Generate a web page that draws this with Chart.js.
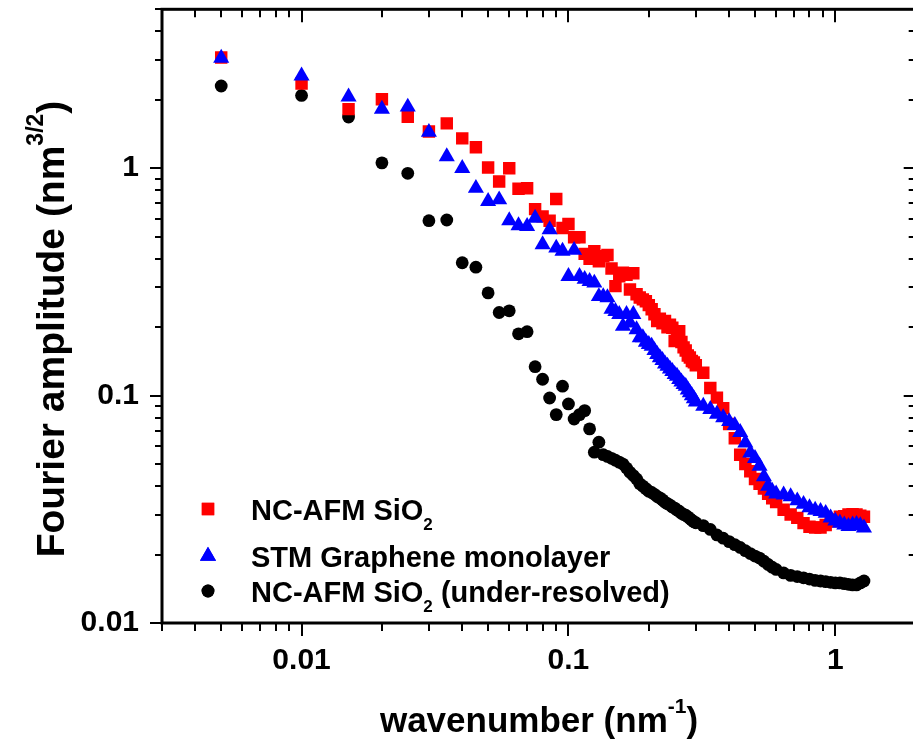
<!DOCTYPE html>
<html>
<head>
<meta charset="utf-8">
<title>Fourier amplitude vs wavenumber</title>
<script src="https://cdn.jsdelivr.net/npm/chart.js@4.4.1/dist/chart.umd.min.js"></script>
<style>
    html, body { margin: 0; padding: 0; background: #fff; overflow: hidden; }
    #wrap { width: 925px; height: 742px; }
</style>
</head>
<body>
<div id="wrap"><canvas id="chart" width="925" height="742"></canvas></div>
<script>
// wavenumber grid (nm^-1), shared by the three series
const wavenumber = [
    0.005, 0.01, 0.015, 0.02, 0.025, 0.03, 0.035, 0.04, 0.045, 0.05,
    0.055, 0.06, 0.065, 0.07, 0.075, 0.08, 0.085, 0.09, 0.095, 0.1,
    0.105, 0.11, 0.115, 0.12, 0.125, 0.13, 0.135, 0.14, 0.145, 0.15,
    0.155, 0.16, 0.165, 0.17, 0.175, 0.18, 0.185, 0.19, 0.195, 0.2,
    0.205, 0.21, 0.215, 0.22, 0.225, 0.23, 0.235, 0.24, 0.245, 0.25,
    0.255, 0.26, 0.265, 0.27, 0.275, 0.28, 0.285, 0.29, 0.295, 0.3,
    0.32, 0.34, 0.36, 0.38, 0.4, 0.42, 0.44, 0.46, 0.48, 0.5,
    0.52, 0.54, 0.56, 0.58, 0.6,
    0.64, 0.68, 0.72, 0.76, 0.8, 0.84, 0.88, 0.92, 0.96, 1.0,
    1.04, 1.08, 1.12, 1.16, 1.2, 1.24, 1.28
];

// NC-AFM SiO2
const afmSiO2 = [
    3.07, 2.36, 1.82, 2.01, 1.685, 1.45, 1.575, 1.353, 1.236, 1.007,
    0.874, 1.0, 0.812, 0.817, 0.661, 0.614, 0.588, 0.732, 0.546, 0.568,
    0.497, 0.497, 0.42, 0.40, 0.432, 0.39, 0.41, 0.415, 0.362, 0.303,
    0.335, 0.347, 0.34, 0.293, 0.345, 0.279, 0.27, 0.265, 0.26, 0.25,
    0.24, 0.228, 0.213, 0.218, 0.208, 0.213, 0.2, 0.205, 0.199, 0.174,
    0.185, 0.192, 0.172, 0.163, 0.158, 0.15, 0.147, 0.142, 0.14, 0.136,
    0.126, 0.108, 0.098, 0.088, 0.075, 0.065, 0.055, 0.05, 0.0465, 0.043,
    0.041, 0.039, 0.037, 0.0354, 0.034,
    0.0315, 0.03, 0.029, 0.0275, 0.0265, 0.0263, 0.0263, 0.027, 0.028, 0.0285,
    0.0293, 0.0295, 0.03, 0.0301, 0.03, 0.0296, 0.0293
];

// STM graphene monolayer
const stmGraphene = [
    3.05, 2.55, 2.06, 1.82, 1.86, 1.44, 1.125, 1.0, 0.817, 0.715,
    0.727, 0.588, 0.56, 0.555, 0.604, 0.462, 0.537, 0.446, 0.432, 0.335,
    0.436, 0.335, 0.325, 0.318, 0.313, 0.273, 0.273, 0.27, 0.24, 0.235,
    0.228, 0.202, 0.228, 0.209, 0.228, 0.195, 0.18, 0.18, 0.172, 0.168,
    0.165, 0.158, 0.152, 0.147, 0.143, 0.138, 0.135, 0.131, 0.128, 0.124,
    0.122, 0.118, 0.115, 0.112, 0.11, 0.106, 0.103, 0.1, 0.097, 0.094,
    0.09, 0.087, 0.083, 0.08, 0.077, 0.074, 0.069, 0.062, 0.056, 0.053,
    0.049, 0.044, 0.04, 0.038, 0.037,
    0.0366, 0.036, 0.0345, 0.0333, 0.0322, 0.0314, 0.031, 0.0304, 0.029, 0.0281,
    0.0275, 0.027, 0.0266, 0.027, 0.0272, 0.0268, 0.0262
];

// NC-AFM SiO2 (under-resolved)
const afmUnderResolved = [
    2.30, 2.09, 1.68, 1.056, 0.95, 0.588, 0.592, 0.384, 0.367, 0.283,
    0.232, 0.236, 0.187, 0.191, 0.134, 0.118, 0.0976, 0.0825, 0.11, 0.0919,
    0.0789, 0.0825, 0.0859, 0.0714, 0.0564, 0.0624, 0.055, 0.054, 0.053, 0.052,
    0.051, 0.05, 0.048, 0.046, 0.0445, 0.043, 0.041, 0.04, 0.039, 0.038,
    0.0375, 0.0368, 0.036, 0.0355, 0.0348, 0.034, 0.0335, 0.033, 0.0324, 0.032,
    0.0314, 0.031, 0.0304, 0.03, 0.0298, 0.0293, 0.0288, 0.0283, 0.0279, 0.0276,
    0.0268, 0.0258, 0.0244, 0.0236, 0.0228, 0.0221, 0.0215, 0.0208, 0.0202, 0.0197,
    0.0193, 0.0187, 0.0181, 0.0176, 0.0172,
    0.0166, 0.0162, 0.016, 0.0158, 0.0156, 0.0154, 0.0153, 0.0152, 0.0151, 0.015,
    0.015, 0.0149, 0.0148, 0.0147, 0.0147, 0.015, 0.0153
];

const seriesNames = ['NC-AFM SiO2', 'STM Graphene monolayer', 'NC-AFM SiO2 (under-resolved)'];
const xRange = [0.003, 2];
const yRange = [0.01, 5];

const FONT = '"Liberation Sans", Arial, Helvetica, sans-serif';

const toPoints = (values) => wavenumber.map((k, i) => ({ x: k, y: values[i] }));

// only label the decades
const decadeLabel = (value) => {
    const l = Math.log10(value);
    return Math.abs(l - Math.round(l)) < 1e-6 ? String(Number(value.toPrecision(3))) : '';
};

// 1..9 x 10^n positions between min and max
const logSteps = (min, max) => {
    const out = [];
    for (let e = Math.floor(Math.log10(min)); e <= Math.ceil(Math.log10(max)); e++) {
        for (let m = 1; m <= 9; m++) {
            const v = m * Math.pow(10, e);
            if (v >= min * 0.9999 && v <= max * 1.0001) out.push({ v: v, major: m === 1 });
        }
    }
    return out;
};

// box frame with outward ticks on bottom/left, inward on top/right
const framePlugin = {
    id: 'frame',
    afterDatasetsDraw(chart) {
        const { ctx, chartArea: a, scales } = chart;
        ctx.save();
        ctx.strokeStyle = '#000';
        ctx.lineWidth = 2;
        ctx.beginPath();
        logSteps(scales.x.min, scales.x.max).forEach(t => {
            const px = Math.round(scales.x.getPixelForValue(t.v));
            const len = t.major ? 13 : 8;
            ctx.moveTo(px, a.bottom); ctx.lineTo(px, a.bottom + len);
            ctx.moveTo(px, a.top); ctx.lineTo(px, a.top + len);
        });
        logSteps(scales.y.min, scales.y.max).forEach(t => {
            const py = Math.round(scales.y.getPixelForValue(t.v));
            const len = t.major ? 12 : 7;
            ctx.moveTo(a.left - len, py); ctx.lineTo(a.left, py);
            ctx.moveTo(a.right - len, py); ctx.lineTo(a.right, py);
        });
        ctx.stroke();
        ctx.lineWidth = 3;
        ctx.strokeRect(a.left, a.top, a.right - a.left, a.bottom - a.top);
        ctx.restore();
    }
};

// text with sub/superscripts
const drawRich = (ctx, parts, x, y, size, align) => {
    const fontOf = (p) => `bold ${p.small ? Math.round(size * 0.6) : size}px ${FONT}`;
    let total = 0;
    parts.forEach(p => {
        ctx.font = fontOf(p);
        p.w = ctx.measureText(p.text).width;
        total += p.w;
    });
    let cx = align === 'center' ? x - total / 2 : x;
    parts.forEach(p => {
        ctx.font = fontOf(p);
        ctx.fillText(p.text, cx, y + (p.shift || 0));
        cx += p.w;
    });
};

const chemParts = (label) => {
    const bits = label.split('SiO2');
    const parts = [];
    bits.forEach((b, i) => {
        if (i > 0) {
            parts.push({ text: 'SiO' });
            parts.push({ text: '2', small: true, shift: 10 });
        }
        if (b) parts.push({ text: b });
    });
    return parts;
};

const labelsPlugin = {
    id: 'labels',
    afterDraw(chart) {
        const ctx = chart.ctx;
        ctx.save();
        ctx.fillStyle = '#000';
        ctx.textBaseline = 'alphabetic';
        ctx.textAlign = 'left';

        // x title
        drawRich(ctx, [
            { text: 'wavenumber (nm' },
            { text: '-1', small: true, shift: -19 },
            { text: ')' }
        ], 539, 732, 35, 'center');

        // y title
        ctx.save();
        ctx.translate(64, 329);
        ctx.rotate(-Math.PI / 2);
        drawRich(ctx, [
            { text: 'Fourier amplitude (nm' },
            { text: '3/2', small: true, shift: -21 },
            { text: ')' }
        ], 0, 0, 39, 'center');
        ctx.restore();

        // legend inside the plot
        const rows = [509, 556, 591];
        chart.data.datasets.forEach((ds, i) => {
            ctx.fillStyle = ds.backgroundColor;
            Chart.helpers.drawPoint(ctx, {
                pointStyle: ds.pointStyle,
                radius: ds.pointRadius,
                borderWidth: 0,
                rotation: 0
            }, 208, rows[i]);
            ctx.fill();
            ctx.fillStyle = '#000';
            drawRich(ctx, chemParts(seriesNames[i]), 251, rows[i] + 11, 29, 'left');
        });
        ctx.restore();
    }
};

const tickFont = { family: FONT, size: 30, weight: 'bold' };

// keep the plot box where it is: no extra room for edge labels
const noEdgePadding = (scale) => {
    scale.paddingTop = 0;
    scale.paddingBottom = 0;
    scale.paddingLeft = 0;
    scale.paddingRight = 0;
};

new Chart(document.getElementById('chart'), {
    type: 'scatter',
    data: {
        datasets: [
            {
                label: seriesNames[0],
                data: toPoints(afmSiO2),
                pointStyle: 'rect',
                pointRadius: 8.8,
                backgroundColor: '#ff0000',
                borderWidth: 0,
                order: 1
            },
            {
                label: seriesNames[1],
                data: toPoints(stmGraphene),
                pointStyle: 'triangle',
                pointRadius: 9.3,
                backgroundColor: '#0000ff',
                borderWidth: 0,
                order: 0
            },
            {
                label: seriesNames[2],
                data: toPoints(afmUnderResolved),
                pointStyle: 'circle',
                pointRadius: 6.4,
                backgroundColor: '#000000',
                borderWidth: 0,
                order: 2
            }
        ]
    },
    options: {
        responsive: false,
        animation: false,
        devicePixelRatio: 1,
        events: [],
        layout: { padding: { top: 7, right: 8, bottom: 0, left: 0 } },
        plugins: {
            legend: { display: false },
            tooltip: { enabled: false }
        },
        scales: {
            x: {
                type: 'logarithmic',
                position: 'bottom',
                min: xRange[0],
                max: xRange[1],
                border: { display: false },
                grid: { display: true, drawOnChartArea: false, drawTicks: true, tickLength: 13, color: 'rgba(0,0,0,0)' },
                ticks: { autoSkip: false, maxRotation: 0, padding: 7, color: '#000', font: tickFont, callback: decadeLabel },
                afterFit: (scale) => { scale.height = 119; noEdgePadding(scale); }
            },
            y: {
                type: 'logarithmic',
                position: 'left',
                min: yRange[0],
                max: yRange[1],
                border: { display: false },
                grid: { display: true, drawOnChartArea: false, drawTicks: true, tickLength: 12, color: 'rgba(0,0,0,0)' },
                ticks: { autoSkip: false, padding: 11, color: '#000', font: tickFont, callback: decadeLabel },
                afterFit: (scale) => { scale.width = 162; noEdgePadding(scale); }
            }
        }
    },
    plugins: [framePlugin, labelsPlugin]
});
</script>
</body>
</html>
